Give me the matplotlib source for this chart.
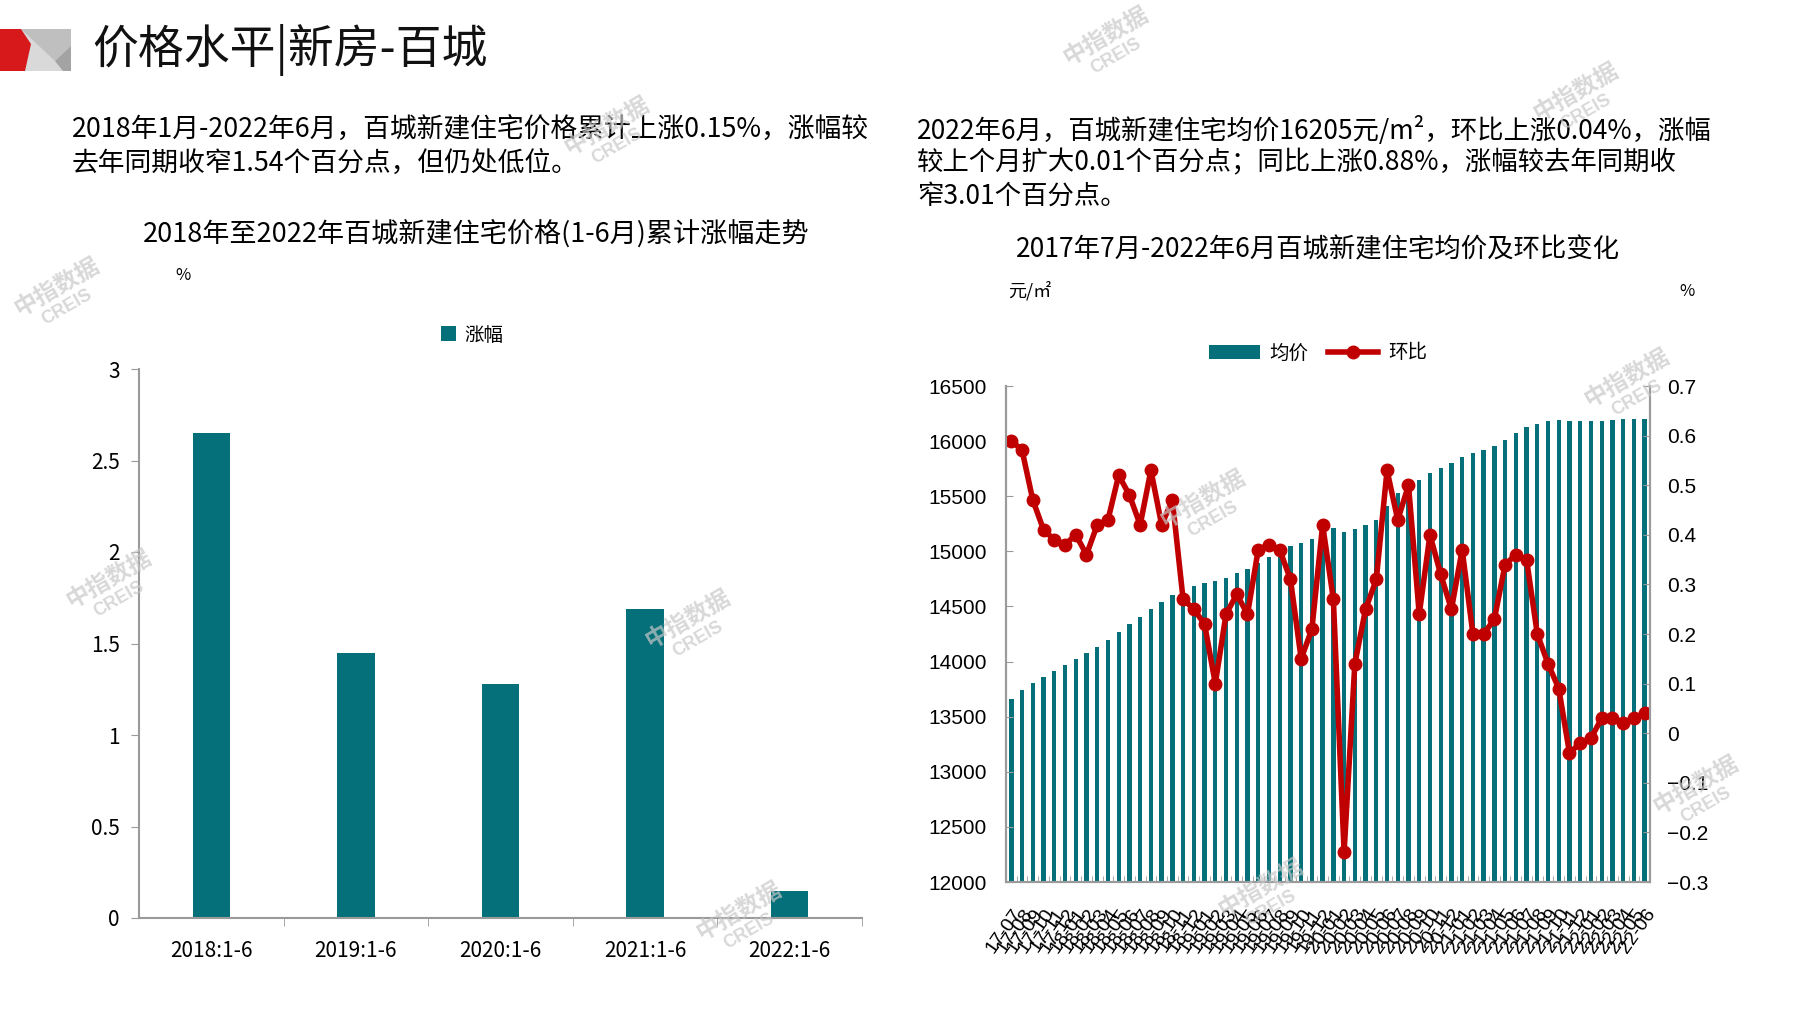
import matplotlib
matplotlib.use("Agg")
import matplotlib.pyplot as plt
from matplotlib.patches import Polygon, Rectangle
from matplotlib.ticker import FuncFormatter, FixedLocator

plt.rcParams['font.family'] = ['Noto Sans CJK SC', 'DejaVu Sans']
plt.rcParams['axes.unicode_minus'] = True

# ---- data: left chart (cumulative rise Jan-Jun) ----
periods = ["2018:1-6", "2019:1-6", "2020:1-6", "2021:1-6", "2022:1-6"]
rise = [2.65, 1.45, 1.28, 1.69, 0.15]

# ---- data: right chart (monthly avg price and MoM change) ----
months = ["17-07", "17-08", "17-09", "17-10", "17-11", "17-12",
          "18-01", "18-02", "18-03", "18-04", "18-05", "18-06",
          "18-07", "18-08", "18-09", "18-10", "18-11", "18-12",
          "19-01", "19-02", "19-03", "19-04", "19-05", "19-06",
          "19-07", "19-08", "19-09", "19-10", "19-11", "19-12",
          "20-01", "20-02", "20-03", "20-04", "20-05", "20-06",
          "20-07", "20-08", "20-09", "20-10", "20-11", "20-12",
          "21-01", "21-02", "21-03", "21-04", "21-05", "21-06",
          "21-07", "21-08", "21-09", "21-10", "21-11", "21-12",
          "22-01", "22-02", "22-03", "22-04", "22-05", "22-06"]
avg_price = [13660, 13742, 13803, 13860, 13918, 13966, 14023, 14075, 14132, 14196,
             14268, 14338, 14402, 14474, 14538, 14601, 14643, 14683, 14713, 14728,
             14760, 14800, 14836, 14890, 14949, 14996, 15051, 15073, 15109, 15150,
             15209, 15173, 15200, 15239, 15285, 15410, 15532, 15587, 15647, 15708,
             15759, 15798, 15859, 15889, 15919, 15956, 16010, 16071, 16125, 16158,
             16180, 16192, 16186, 16186, 16180, 16186, 16192, 16198, 16203, 16205]
mom = [0.59, 0.57, 0.47, 0.41, 0.39, 0.38, 0.40, 0.36, 0.42, 0.43,
       0.52, 0.48, 0.42, 0.53, 0.42, 0.47, 0.27, 0.25, 0.22, 0.10,
       0.24, 0.28, 0.24, 0.37, 0.38, 0.37, 0.31, 0.15, 0.21, 0.42,
       0.27, -0.24, 0.14, 0.25, 0.31, 0.53, 0.43, 0.50, 0.24, 0.40,
       0.32, 0.25, 0.37, 0.20, 0.20, 0.23, 0.34, 0.36, 0.35, 0.20,
       0.14, 0.09, -0.04, -0.02, -0.01, 0.03, 0.03, 0.02, 0.03, 0.04]

TEAL = "#05707a"
RED = "#c00000"
AXIS_GRAY = "#9a9a9a"
W, H = 1797, 1010

fig = plt.figure(figsize=(W / 100, H / 100), dpi=100)

# overlay in pixel coords for header, text and watermarks
bg = fig.add_axes([0, 0, 1, 1])
bg.set_xlim(0, W)
bg.set_ylim(H, 0)
bg.axis("off")
bg.set_zorder(10)
bg.patch.set_alpha(0)

# logo
bg.add_patch(Rectangle((0, 29), 71, 42, color="#d9d9d9", lw=0))
bg.add_patch(Polygon([(21, 29), (71, 29), (71, 46), (55, 61)], color="#bfbfbf", lw=0))
bg.add_patch(Polygon([(71, 46), (55, 61), (63, 71), (71, 71)], color="#a3a3a3", lw=0))
bg.add_patch(Polygon([(0, 29), (21, 29), (31, 44), (25, 71), (0, 71)], color="#d7191c", lw=0))

bg.text(92, 50, "价格水平|新房-百城", fontsize=33, va="center", ha="left", color="#111111")

body = 19.3
bg.text(72, 130, "2018年1月-2022年6月，百城新建住宅价格累计上涨0.15%，涨幅较",
        fontsize=body, va="center", ha="left")
bg.text(72, 163, "去年同期收窄1.54个百分点，但仍处低位。",
        fontsize=body, va="center", ha="left")
bg.text(917, 130, "2022年6月，百城新建住宅均价16205元/m²，环比上涨0.04%，涨幅",
        fontsize=19, va="center", ha="left")
bg.text(917, 163, "较上个月扩大0.01个百分点；同比上涨0.88%，涨幅较去年同期收",
        fontsize=19, va="center", ha="left")
bg.text(917, 196, "窄3.01个百分点。", fontsize=19, va="center", ha="left")

bg.text(476, 234, "2018年至2022年百城新建住宅价格(1-6月)累计涨幅走势",
        fontsize=19.5, va="center", ha="center")
bg.text(1318, 250, "2017年7月-2022年6月百城新建住宅均价及环比变化",
        fontsize=19, va="center", ha="center")
bg.text(183, 275, "%", fontsize=12, va="center", ha="center")
bg.text(1030, 291, "元/㎡", fontsize=13, va="center", ha="center")
bg.text(1687, 291, "%", fontsize=12, va="center", ha="center")

# watermarks
marks = [(1106, 36), (57, 287), (109, 579), (607, 126), (1576, 92), (688, 619),
         (1627, 378), (1203, 499), (1696, 785), (739, 911), (1261, 888)]
for mx, my in marks:
    bg.text(mx, my, "中指数据", fontsize=17, fontweight="bold", rotation=30,
            color="#c8c8c8", alpha=0.7, ha="center", va="center")
    bg.text(mx + 10, my + 20, "CREIS", fontsize=13, fontweight="bold", rotation=30,
            color="#c8c8c8", alpha=0.7, ha="center", va="center", family="Liberation Sans")

# ---- left chart ----
ax1 = fig.add_axes([139 / W, 1 - 918 / H, (862 - 139) / W, (918 - 369) / H])
xs = range(len(periods))
b1 = ax1.bar(xs, rise, width=0.26, color=TEAL, label="涨幅")
ax1.set_xlim(-0.5, len(periods) - 0.5)
ax1.set_ylim(0, 3)
ax1.set_yticks([0, 0.5, 1, 1.5, 2, 2.5, 3])
ax1.yaxis.set_major_formatter(FuncFormatter(lambda v, p: "{:g}".format(v)))
ax1.set_xticks(list(xs))
ax1.set_xticklabels(periods)
ax1.xaxis.set_minor_locator(FixedLocator([i + 0.5 for i in range(len(periods))]))
ax1.tick_params(axis="x", which="major", length=0, pad=16, labelsize=15)
ax1.tick_params(axis="x", which="minor", length=6, direction="out", color=AXIS_GRAY)
ax1.tick_params(axis="y", length=6, direction="out", color=AXIS_GRAY, labelsize=15, pad=8)
for s in ["top", "right"]:
    ax1.spines[s].set_visible(False)
for s in ["left", "bottom"]:
    ax1.spines[s].set_color(AXIS_GRAY)
    ax1.spines[s].set_linewidth(1.5)
fig.legend([b1], ["涨幅"], loc="center", bbox_to_anchor=(472 / W, 1 - 335 / H),
           frameon=False, fontsize=14, handlelength=0.8, handleheight=0.8,
           handletextpad=0.4)

# ---- right chart ----
ax2 = fig.add_axes([1006 / W, 1 - 882 / H, (1650 - 1006) / W, (882 - 386) / H])
pos = range(len(months))
b2 = ax2.bar(pos, avg_price, width=0.4, color=TEAL, label="均价")
ax2.set_xlim(-0.5, len(months) - 0.5)
ax2.set_ylim(12000, 16500)
ax2.set_yticks(range(12000, 16501, 500))
ax2.set_xticks(list(pos))
ax2.set_xticklabels(months, rotation=55, ha="right", rotation_mode="anchor",
                    family="Liberation Sans")
ax2.xaxis.set_minor_locator(FixedLocator([i + 0.5 for i in range(len(months))]))
ax2.tick_params(axis="x", which="major", length=0, pad=17, labelsize=14)
ax2.tick_params(axis="x", which="minor", length=4, direction="in", color=AXIS_GRAY)
ax2.tick_params(axis="y", length=5, direction="in", color=AXIS_GRAY, labelsize=15, pad=14)
for t in ax2.get_yticklabels():
    t.set_family("Liberation Sans")

ax3 = ax2.twinx()
ln, = ax3.plot(pos, mom, color=RED, lw=4, marker="o", markersize=9, label="环比")
ax3.set_ylim(-0.3, 0.7)
ax3.set_yticks([-0.3, -0.2, -0.1, 0, 0.1, 0.2, 0.3, 0.4, 0.5, 0.6, 0.7])
ax3.yaxis.set_major_formatter(FuncFormatter(lambda v, p: "{:g}".format(round(v, 1)).replace("-", "\u2212")))
ax3.tick_params(axis="y", length=5, direction="in", color=AXIS_GRAY, labelsize=15, pad=12)
for t in ax3.get_yticklabels():
    t.set_family("Liberation Sans")

for a in (ax2, ax3):
    a.spines["top"].set_visible(False)
    for s in ["left", "right", "bottom"]:
        a.spines[s].set_color(AXIS_GRAY)
        a.spines[s].set_linewidth(1.5)

fig.legend([b2, ln], ["均价", "环比"], loc="center", bbox_to_anchor=(1318 / W, 1 - 353 / H),
           ncol=2, frameon=False, fontsize=14, handlelength=2.6, handleheight=0.7,
           handletextpad=0.5, columnspacing=1.0)

fig.savefig("out.png", dpi=100)
